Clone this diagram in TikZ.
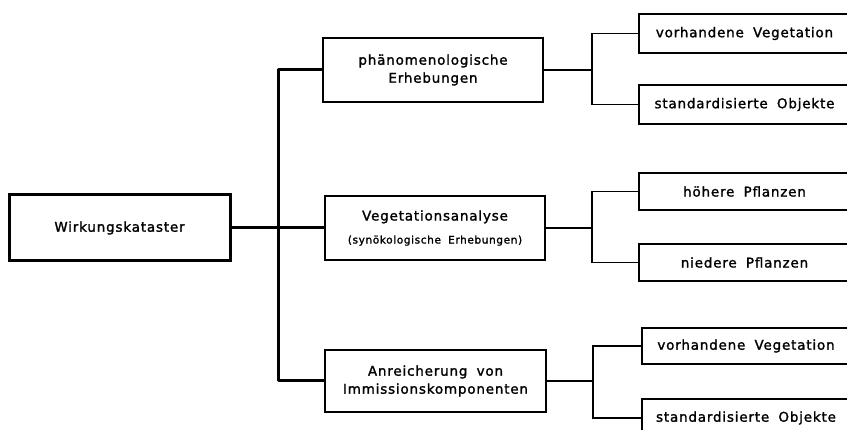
\documentclass[tikz,border=0pt]{standalone}
\usepackage{fontspec}
\setmainfont{DejaVu Sans}[LetterSpace=6, FakeBold=1.5, WordSpace=1.8]
\begin{document}
\begin{tikzpicture}[x=1pt,y=-1pt,
  thinline/.style={line width=1.4pt},
  thickline/.style={line width=3pt, line join=round},
  box/.style={draw, line width=1.4pt, rectangle, inner sep=0pt, align=center,
    font=\fontsize{13.5}{18}\selectfont},
  mainbox/.style={box, line width=3pt},
  rbox/.style={box, minimum width=211pt}
]
\useasboundingbox (0,0) rectangle (847,430);
\fill[white] (0,0) rectangle (847,430);

\node[mainbox, minimum width=221pt, minimum height=66pt] (main) at (119.5,228) {Wirkungskataster};

\node[box, minimum width=220pt, minimum height=64pt] (phan) at (433,70) {phänomenologische\\Erhebungen};
\node[box, minimum width=220pt, minimum height=64pt] (veg) at (435,228)
  {Vegetationsanalyse\\[5pt]{\fontsize{10.5}{12}\selectfont (synökologische Erhebungen)}};
\node[box, minimum width=221pt, minimum height=62pt] (anr) at (435.5,381) {Anreicherung von\\Immissionskomponenten};

\node[rbox, minimum height=39pt] (v1) at (744.5,33.5) {vorhandene Vegetation};
\node[rbox, minimum height=39pt] (s1) at (744.5,104.5) {standardisierte Objekte};
\node[rbox, minimum height=37pt] (h2) at (744.5,191.5) {höhere Pflanzen};
\node[rbox, minimum height=37pt] (n2) at (744.5,262.5) {niedere Pflanzen};
\node[rbox, minimum width=208pt, minimum height=36pt] (v3) at (746,346) {vorhandene Vegetation};
\node[rbox, minimum width=208pt, minimum height=38pt] (s3) at (746,418) {standardisierte Objekte};

\coordinate (bus) at (278.5,228);
\coordinate (j1) at (592,70);
\coordinate (j2) at (592,228);
\coordinate (j3) at (593,381);

\draw[thickline] (main.east) -- (veg.west);
\draw[thickline] (phan.west) -| (bus) |- (anr.west);

\draw[thinline] (phan.east) -- (j1);
\draw[thinline] (v1.west) -| (j1) |- (s1.west);
\draw[thinline] (veg.east) -- (j2);
\draw[thinline] (h2.west) -| (j2) |- (n2.west);
\draw[thinline] (anr.east) -- (j3);
\draw[thinline] (v3.west) -| (j3) |- (s3.west);
\end{tikzpicture}
\end{document}
